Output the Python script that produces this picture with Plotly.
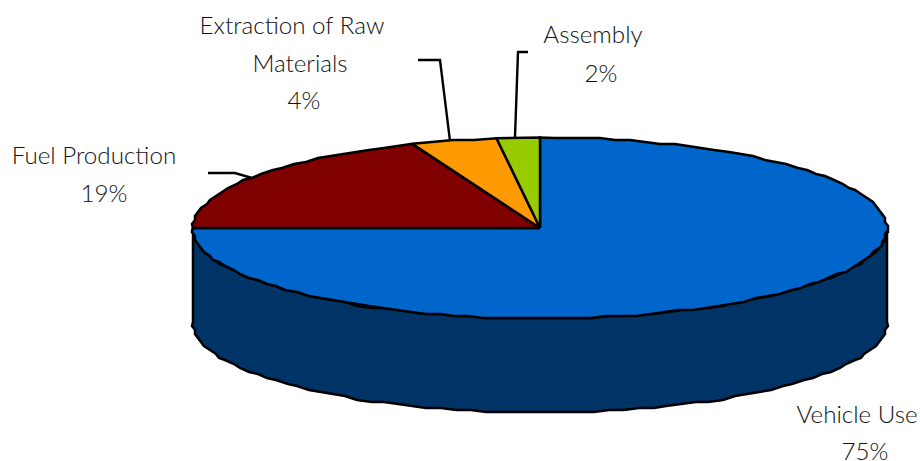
import numpy as np
import plotly.graph_objects as go

categories = ["Vehicle Use", "Fuel Production", "Extraction of Raw Materials", "Assembly"]
values = [75, 19, 4, 2]

colors = ["#0066CC", "#800000", "#FF9900", "#99CC00"]
side_color = "#003366"
CX, CY, RX, RY, DEPTH = 540, 228, 347, 90.5, 94
GRID_X, GRID_Y = 3, 2
FONT = "Lato"
FONT_SIZE = 24.2
TEXT_COLOR = "#111111"

label_lines = [
    ("Extraction of Raw", 292, 28), ("Materials", 300, 66), ("4%", 304, 103),
    ("Assembly", 593, 37), ("2%", 601, 76),
    ("Fuel Production", 94, 158), ("19%", 104, 196),
    ("Vehicle Use", 857, 417), ("75%", 865, 454),
]
leaders = [
    ([208, 235, 252], [173, 173, 178]),
    ([418, 440, 450], [60, 60, 141]),
    ([528, 518, 515], [52, 52, 137]),
]


def rim(a0, a1, dy=0):
    """Points on the elliptical rim between two fractions of the circle, with a stepped edge."""
    n = max(2, int(abs(a1 - a0) * 360 / 2.5))
    t = np.linspace(a0, a1, n) * 2 * np.pi
    x = np.round((CX + RX * np.sin(t)) / GRID_X) * GRID_X
    y = np.round((CY - RY * np.cos(t)) / GRID_Y) * GRID_Y + dy
    x[0], y[0] = CX + RX * np.sin(t[0]), CY - RY * np.cos(t[0]) + dy
    x[-1], y[-1] = CX + RX * np.sin(t[-1]), CY - RY * np.cos(t[-1]) + dy
    return x, y


fig = go.Figure()
line = dict(color="black", width=2.5)

# side wall: lower half of the rim and its copy shifted down
x1, y1 = rim(0.25, 0.75)
x2, y2 = rim(0.25, 0.75, DEPTH)
fig.add_trace(go.Scatter(
    x=np.r_[x1, x2[::-1], x1[0]], y=np.r_[y1, y2[::-1], y1[0]],
    mode="lines", fill="toself", fillcolor=side_color, line=line, hoverinfo="skip"))

# top slices
start = 0.0
for name, v, c in zip(categories, values, colors):
    end = start + v / sum(values)
    x, y = rim(start, end)
    fig.add_trace(go.Scatter(
        x=np.r_[CX, x, CX], y=np.r_[CY, y, CY], name=name,
        mode="lines", fill="toself", fillcolor=c, line=line))
    start = end

for lx, ly in leaders:
    fig.add_trace(go.Scatter(x=lx, y=ly, mode="lines",
                             line=dict(color="black", width=2.4), hoverinfo="skip"))

fig.add_trace(go.Scatter(
    x=[l[1] for l in label_lines], y=[l[2] for l in label_lines],
    text=[l[0] for l in label_lines], mode="text", textposition="middle center",
    textfont=dict(family=FONT, size=FONT_SIZE, color=TEXT_COLOR, weight=300),
    hoverinfo="skip", cliponaxis=False))

fig.update_layout(
    width=920, height=461, margin=dict(l=0, r=0, t=0, b=0), showlegend=False,
    paper_bgcolor="white", plot_bgcolor="white",
    xaxis=dict(range=[0, 920], visible=False),
    yaxis=dict(range=[461, 0], visible=False),
)
fig.write_html("out.html", config=dict(displayModeBar=False),
               post_script="document.body.style.margin='0';document.body.style.overflow='hidden';")
